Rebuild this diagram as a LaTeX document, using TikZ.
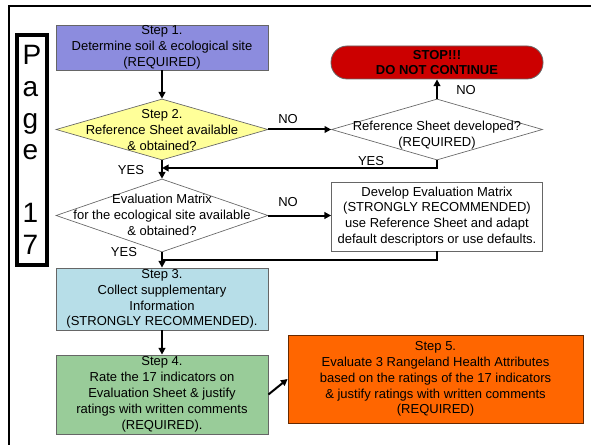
\documentclass[tikz,border=0pt]{standalone}
\usepackage{fontspec}
\setmainfont{Liberation Sans}
\usepackage{xcolor}
\usetikzlibrary{shapes.geometric,arrows.meta}

\definecolor{stepblue}{RGB}{140,140,222}
\definecolor{stepyellow}{RGB}{255,255,153}
\definecolor{stopred}{RGB}{204,0,0}
\definecolor{stepcyan}{RGB}{183,222,232}
\definecolor{stepgreen}{RGB}{153,204,153}
\definecolor{steporange}{RGB}{255,102,0}

\tikzset{
  flowfont/.style={font=\fontsize{9.75}{11.9}\selectfont},
  box/.style={flowfont, draw=black!60, line width=0.6pt, minimum width=159pt, align=center, inner sep=0pt},
  dia/.style={diamond, draw=black!60, line width=0.5pt, inner sep=0pt, minimum width=159pt},
  txt/.style={flowfont, align=center, inner sep=0pt},
  lbl/.style={flowfont, inner sep=0pt},
  arr/.style={line width=1.5pt, -{Triangle[length=5pt,width=5pt]}},
  plain/.style={line width=1.5pt},
}

\begin{document}
\begin{tikzpicture}[x=0.75pt,y=0.75pt,yscale=-1,xscale=1]
\useasboundingbox (0,0) rectangle (591,445);

% slide frame
\draw[line width=1.5pt] (9,445) -- (9,6) -- (591,6);

% page tag
\node[draw, line width=3pt, minimum width=22.5pt, minimum height=172.5pt, inner sep=0pt, align=left,
      font=\fontsize{21}{23.7}\selectfont] (page) at (32,150) {P\\a\\g\\e\\[23.7pt]1\\7};

% left column
\node[box, fill=stepblue, minimum height=33.75pt] (step1) at (162,47.5) {Step 1.\\Determine soil \& ecological site\\(REQUIRED)};

\node[dia, fill=stepyellow, minimum height=45.75pt] (step2) at (162,129.5) {};
\node[txt] (step2t) at (162,130) {Step 2.\\Reference Sheet available\\\& obtained?};

\node[dia, fill=white, minimum height=54.75pt] (evalm) at (162,215.5) {};
\node[txt] (evalmt) at (162,215) {Evaluation Matrix\\for the ecological site available\\\& obtained?};

\node[box, fill=stepcyan, minimum height=46.5pt] (step3) at (162,299) {Step 3.\\Collect supplementary\\Information\\(STRONGLY RECOMMENDED).};

\node[box, fill=stepgreen, minimum height=59.25pt] (step4) at (162,394.5) {Step 4.\\Rate the 17 indicators on\\Evaluation Sheet \& justify\\ratings with written comments\\(REQUIRED).};

% right column
\node[box, fill=stopred, rounded corners=12pt, minimum height=24.75pt, font=\fontsize{9.75}{11.3}\selectfont\bfseries] (stop) at (437,62.5) {STOP!!!\\DO NOT CONTINUE};

\node[dia, fill=white, minimum width=158.25pt, minimum height=45.75pt] (devd) at (437,129.5) {};
\node[txt] (devdt) at (437,135.5) {Reference Sheet developed?\\(REQUIRED)};

\node[box, fill=white, minimum width=158.25pt, minimum height=51.75pt] (devbox) at (437,216.5) {Develop Evaluation Matrix\\(STRONGLY RECOMMENDED)\\use Reference Sheet and adapt\\default descriptors or use defaults.};

\node[box, fill=steporange, draw=steporange!40!black, minimum width=221.25pt, minimum height=66pt] (step5) at (435.5,379) {Step 5.\\Evaluate 3 Rangeland Health Attributes\\based on the ratings of the 17 indicators\\\& justify ratings with written comments\\(REQUIRED)};

% answers
\node[lbl] (no1) at (288,119) {NO};
\node[lbl] (no2) at (466,90) {NO};
\node[lbl] (no3) at (288,202) {NO};
\node[lbl] (yes1) at (131,170) {YES};
\node[lbl] (yes2) at (371,161) {YES};
\node[lbl] (yes3) at (124,252) {YES};

% connectors
\coordinate (join1) at (162,168);
\coordinate (join2) at (162,260);
\draw[arr] (step1.south) -- (step2.north);
\draw[arr] (step2.south) -- (evalm.north);
\draw[arr] (step2.east) -- (devd.west);
\draw[arr] (devd.north) -- (stop.south);
\draw[arr] (devd.south) |- (join1);
\draw[arr] (evalm.east) -- (evalm.east -| devbox.west);
\draw[arr] (evalm.south) -- (step3.north);
\draw[plain] (devbox.south) |- (join2);
\draw[arr] (step3.south) -- (step4.north);
\draw[arr] (step4.east) -- (step5.west);
\end{tikzpicture}
\end{document}
